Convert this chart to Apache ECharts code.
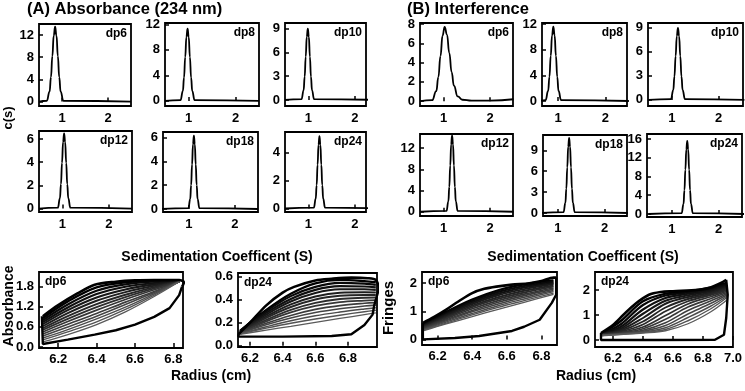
<!DOCTYPE html>
<html>
<head>
<meta charset="utf-8">
<script src="https://cdn.jsdelivr.net/npm/echarts@6/dist/echarts.min.js"></script>
<style>
html, body { margin: 0; padding: 0; background: #fff; }
#chart { width: 745px; height: 391px; }
</style>
</head>
<body>
<div id="chart"></div>
<script>
// c(s) distributions, [s (S), c(s)]
const absDp6 = [[0.5, 0], [0.67, 0.15], [0.73, 1.8], [0.76, 4.4], [0.79, 8.2], [0.82, 11.9], [0.85, 13.5], [0.88, 11.9], [0.91, 8.2], [0.94, 4.4], [0.97, 1.8], [1.03, 0.15], [2.5, 0]]
const absDp8 = [[0.5, 0], [0.83, 0.12], [0.88, 1.53], [0.905, 3.67], [0.93, 6.86], [0.955, 9.97], [0.98, 11.3], [1.005, 9.97], [1.03, 6.86], [1.055, 3.67], [1.08, 1.53], [1.13, 0.12], [2.5, 0]]
const absDp10 = [[0.5, 0], [0.855, 0.1], [0.9, 1.22], [0.9225, 2.93], [0.945, 5.46], [0.9675, 7.94], [0.99, 9.0], [1.0125, 7.94], [1.035, 5.46], [1.0575, 2.93], [1.08, 1.22], [1.125, 0.1], [2.5, 0]]
const absDp12 = [[0.5, 0], [0.905, 0.07], [0.95, 0.88], [0.9725, 2.11], [0.995, 3.95], [1.0175, 5.73], [1.04, 6.5], [1.0625, 5.73], [1.085, 3.95], [1.1075, 2.11], [1.13, 0.88], [1.175, 0.07], [2.5, 0]]
const absDp18 = [[0.4, 0], [0.99, 0.07], [1.03, 0.83], [1.05, 2.0], [1.07, 3.73], [1.09, 5.42], [1.11, 6.15], [1.13, 5.42], [1.15, 3.73], [1.17, 2.0], [1.19, 0.83], [1.23, 0.07], [2.5, 0]]
const absDp24 = [[0.5, 0], [1.12, 0.06], [1.16, 0.7], [1.18, 1.67], [1.2, 3.13], [1.22, 4.54], [1.24, 5.15], [1.26, 4.54], [1.28, 3.13], [1.3, 1.67], [1.32, 0.7], [1.36, 0.06], [2.5, 0]]

const intDp6 = [[0.5, 0], [0.75, 0.1], [0.84, 1.04], [0.885, 2.5], [0.93, 4.67], [0.975, 6.79], [1.02, 7.7], [1.07, 6.9], [1.12, 5.0], [1.17, 3.0], [1.22, 1.6], [1.3, 0.5], [1.4, 0.15], [1.6, 0.05], [2.0, 0.05], [2.5, 0.2]]
const intDp8 = [[0.6, 0], [0.735, 0.13], [0.79, 1.57], [0.8175, 3.77], [0.845, 7.04], [0.8725, 10.2], [0.9, 11.6], [0.9275, 10.2], [0.955, 7.04], [0.9825, 3.77], [1.01, 1.57], [1.065, 0.13], [2.5, 0]]
const intDp10 = [[0.5, 0], [0.98, 0.1], [1.03, 1.22], [1.055, 2.93], [1.08, 5.46], [1.105, 7.94], [1.13, 9.0], [1.155, 7.94], [1.18, 5.46], [1.205, 2.93], [1.23, 1.22], [1.28, 0.1], [2.55, 0]]
const intDp12 = [[0.5, 0], [1.06, 0.16], [1.1, 1.95], [1.12, 4.68], [1.14, 8.74], [1.16, 12.7], [1.18, 14.4], [1.2, 12.7], [1.22, 8.74], [1.24, 4.68], [1.26, 1.95], [1.3, 0.16], [2.5, 0]]
const intDp18 = [[0.6, 0], [1.12, 0.12], [1.16, 1.46], [1.18, 3.51], [1.2, 6.56], [1.22, 9.53], [1.24, 10.8], [1.26, 9.53], [1.28, 6.56], [1.3, 3.51], [1.32, 1.46], [1.36, 0.12], [2.5, 0]]
const intDp24 = [[0.5, 0], [1.21, 0.17], [1.25, 2.11], [1.27, 5.07], [1.29, 9.47], [1.31, 13.76], [1.33, 15.6], [1.35, 13.76], [1.37, 9.47], [1.39, 5.07], [1.41, 2.11], [1.45, 0.17], [2.55, 0]]

const sTicks = [1, 2]

// absorbance scans, dp6
const absScan6Radius = [6.12, 6.25, 6.4, 6.55, 6.7, 6.83]
const absScan6 = [
  [0.86, 1.36, 1.78, 1.93, 1.98, 1.95],
  [0.80, 1.27, 1.68, 1.87, 1.95, 1.95],
  [0.74, 1.18, 1.58, 1.80, 1.91, 1.95],
  [0.68, 1.10, 1.48, 1.72, 1.87, 1.95],
  [0.62, 1.01, 1.38, 1.64, 1.83, 1.95],
  [0.56, 0.92, 1.28, 1.56, 1.79, 1.95],
  [0.51, 0.84, 1.19, 1.49, 1.75, 1.95],
  [0.45, 0.76, 1.10, 1.42, 1.71, 1.95],
  [0.39, 0.68, 1.00, 1.34, 1.66, 1.95],
  [0.33, 0.60, 0.92, 1.27, 1.63, 1.95],
  [0.27, 0.52, 0.84, 1.19, 1.59, 1.95],
  [0.21, 0.45, 0.75, 1.12, 1.55, 1.95],
  [0.15, 0.37, 0.67, 1.05, 1.51, 1.95]
]
const absScan6Top = [[6.12, 0.92], [6.2, 1.25], [6.3, 1.6], [6.39, 1.86], [6.5, 1.95], [6.6, 1.99], [6.7, 2.0], [6.83, 2.0], [6.855, 1.93], [6.845, 1.8]]
const absScan6Outline = [[6.845, 1.8], [6.83, 1.55], [6.78, 1.16], [6.7, 0.9], [6.6, 0.67], [6.5, 0.5], [6.39, 0.37], [6.25, 0.22], [6.12, 0.09], [6.115, 0.09], [6.115, 0.92]]

// absorbance scans, dp24
const absScan24Radius = [6.14, 6.3, 6.45, 6.6, 6.75, 6.9, 6.97]
const absScan24 = [
  [0.13, 0.31, 0.45, 0.54, 0.57, 0.56, 0.55],
  [0.13, 0.30, 0.43, 0.51, 0.545, 0.538, 0.528],
  [0.125, 0.285, 0.405, 0.484, 0.516, 0.513, 0.506],
  [0.125, 0.271, 0.383, 0.457, 0.489, 0.489, 0.484],
  [0.12, 0.254, 0.358, 0.427, 0.46, 0.464, 0.462],
  [0.12, 0.242, 0.336, 0.401, 0.433, 0.44, 0.44],
  [0.115, 0.224, 0.311, 0.372, 0.405, 0.416, 0.418],
  [0.115, 0.212, 0.289, 0.345, 0.378, 0.392, 0.396],
  [0.11, 0.195, 0.263, 0.315, 0.348, 0.368, 0.374],
  [0.11, 0.183, 0.241, 0.288, 0.321, 0.344, 0.352],
  [0.105, 0.165, 0.217, 0.26, 0.292, 0.319, 0.33],
  [0.105, 0.153, 0.195, 0.232, 0.265, 0.295, 0.308],
  [0.10, 0.136, 0.169, 0.203, 0.237, 0.27, 0.286]
]
const absScan24Top = [[6.13, 0.1], [6.2, 0.2], [6.3, 0.35], [6.4, 0.46], [6.47, 0.51], [6.6, 0.565], [6.7, 0.58], [6.82, 0.59], [6.92, 0.585], [6.97, 0.57], [6.99, 0.5]]
const absScan24Outline = [[6.99, 0.5], [6.97, 0.4], [6.96, 0.35], [6.95, 0.27], [6.9, 0.18], [6.82, 0.1], [6.7, 0.085], [6.4, 0.08], [6.13, 0.08], [6.13, 0.1]]

// interference scans, dp6
const intScan6Radius = [6.12, 6.25, 6.4, 6.55, 6.7, 6.87]
const intScan6 = [
  [0.55, 0.98, 1.42, 1.75, 1.96, 2.10],
  [0.53, 0.94, 1.37, 1.69, 1.90, 2.06],
  [0.51, 0.90, 1.31, 1.63, 1.85, 2.01],
  [0.48, 0.86, 1.26, 1.57, 1.79, 1.97],
  [0.46, 0.82, 1.20, 1.50, 1.73, 1.92],
  [0.44, 0.78, 1.15, 1.44, 1.67, 1.88],
  [0.42, 0.74, 1.09, 1.38, 1.61, 1.83],
  [0.40, 0.70, 1.03, 1.32, 1.56, 1.79],
  [0.37, 0.66, 0.98, 1.26, 1.50, 1.74],
  [0.35, 0.62, 0.92, 1.20, 1.44, 1.70],
  [0.33, 0.58, 0.87, 1.14, 1.38, 1.65],
  [0.31, 0.55, 0.81, 1.07, 1.32, 1.60]
]
const intScan6Top = [[6.115, 0.59], [6.18, 0.8], [6.25, 1.06], [6.32, 1.35], [6.4, 1.65], [6.47, 1.8], [6.54, 1.88], [6.63, 1.95], [6.73, 2.0], [6.8, 2.08], [6.87, 2.2], [6.885, 2.2]]
const intScan6Outline = [[6.885, 2.2], [6.885, 1.59], [6.86, 1.3], [6.79, 0.7], [6.7, 0.45], [6.63, 0.3], [6.44, 0.12], [6.3, 0.05], [6.115, 0.0], [6.115, 0.59]]

// interference scans, dp24
const intScan24Radius = [6.12, 6.25, 6.4, 6.55, 6.7, 6.85, 6.96]
const intScan24 = [
  [0.25, 0.75, 1.55, 1.85, 1.95, 2.1, 2.3],
  [0.24, 0.62, 1.40, 1.78, 1.90, 2.05, 2.25],
  [0.23, 0.52, 1.22, 1.68, 1.85, 2.0, 2.2],
  [0.22, 0.45, 1.05, 1.57, 1.79, 1.95, 2.15],
  [0.22, 0.40, 0.88, 1.45, 1.72, 1.9, 2.1],
  [0.21, 0.36, 0.74, 1.30, 1.64, 1.85, 2.05],
  [0.21, 0.33, 0.62, 1.15, 1.55, 1.8, 2.0],
  [0.2, 0.30, 0.52, 0.98, 1.44, 1.73, 1.95],
  [0.2, 0.28, 0.45, 0.83, 1.32, 1.65, 1.9],
  [0.19, 0.26, 0.39, 0.69, 1.18, 1.56, 1.85],
  [0.19, 0.25, 0.35, 0.58, 1.04, 1.46, 1.8],
  [0.18, 0.24, 0.32, 0.49, 0.90, 1.35, 1.75],
  [0.18, 0.23, 0.30, 0.42, 0.77, 1.24, 1.7],
  [0.17, 0.22, 0.28, 0.37, 0.65, 1.12, 1.6]
]
const intScan24Top = [[6.12, 0.28], [6.2, 0.6], [6.27, 1.01], [6.35, 1.45], [6.44, 1.81], [6.52, 1.92], [6.6, 1.95], [6.77, 2.01], [6.85, 2.1], [6.92, 2.28], [6.955, 2.41]]
const intScan24Outline = [[6.955, 2.41], [6.965, 1.81], [6.955, 0.88], [6.94, 0.21], [6.88, 0.01], [6.5, 0.0], [6.12, 0.0], [6.12, 0.28]]

const radiusTicks = [6.2, 6.4, 6.6, 6.8]
const radiusTicksWide = [6.2, 6.4, 6.6, 6.8, 7.0]

const FONT = 'Arial, "Liberation Sans", sans-serif'

const peakPanels = [
  { label: 'dp6', data: absDp6, box: [39, 24, 92, 82], x: [0.5, 2.5], y: [-0.8, 14], ticks: [0, 4, 8, 12] },
  { label: 'dp8', data: absDp8, box: [165, 23, 94, 83], x: [0.5, 2.5], y: [-0.8, 12.2], ticks: [0, 4, 8, 12] },
  { label: 'dp10', data: absDp10, box: [285, 23, 81, 83], x: [0.5, 2.24], y: [-0.76, 9.7], ticks: [0, 3, 6, 9] },
  { label: 'dp12', data: absDp12, box: [39, 131, 93, 81], x: [0.5, 2.5], y: [-0.3, 6.7], ticks: [0, 2, 4, 6] },
  { label: 'dp18', data: absDp18, box: [163, 132, 95, 80], x: [0.44, 2.5], y: [-0.25, 6.45], ticks: [0, 2, 4, 6] },
  { label: 'dp24', data: absDp24, box: [285, 132, 81, 80], x: [0.5, 2.24], y: [-0.25, 5.45], ticks: [0, 2, 4] },
  { label: 'dp6', data: intDp6, box: [420, 23, 93, 83], x: [0.49, 2.49], y: [-0.5, 8.1], ticks: [0, 2, 4, 6, 8] },
  { label: 'dp8', data: intDp8, box: [542, 23, 85, 83], x: [0.66, 2.46], y: [-0.78, 12.15], ticks: [0, 4, 8, 12] },
  { label: 'dp10', data: intDp10, box: [648, 23, 95, 83], x: [0.49, 2.52], y: [-0.76, 9.6], ticks: [0, 3, 6, 9] },
  { label: 'dp12', data: intDp12, box: [420, 134, 93, 82], x: [0.49, 2.49], y: [-0.8, 14.65], ticks: [0, 4, 8, 12] },
  { label: 'dp18', data: intDp18, box: [543, 135, 84, 81], x: [0.68, 2.48], y: [-0.43, 11.2], ticks: [0, 3, 6, 9] },
  { label: 'dp24', data: intDp24, box: [647, 134, 95, 83], x: [0.47, 2.5], y: [-0.64, 17.06], ticks: [0, 4, 8, 12, 16] }
]

const scanPanels = [
  { label: 'dp6', radius: absScan6Radius, scans: absScan6, top: absScan6Top, outline: absScan6Outline, box: [39, 272, 144, 76], x: [6.1, 6.85], y: [-0.03, 2.24], xTicks: radiusTicks, yTicks: [0, 0.6, 1.2, 1.8], digits: 1 },
  { label: 'dp24', radius: absScan24Radius, scans: absScan24, top: absScan24Top, outline: absScan24Outline, box: [238, 273, 139, 74], x: [6.127, 6.977], y: [-0.01, 0.63], xTicks: radiusTicks, yTicks: [0, 0.2, 0.4, 0.6], digits: 1 },
  { label: 'dp6', radius: intScan6Radius, scans: intScan6, top: intScan6Top, outline: intScan6Outline, box: [422, 272, 135, 73], x: [6.11, 6.89], y: [-0.2, 2.4], xTicks: radiusTicks, yTicks: [0, 1, 2], digits: 0 },
  { label: 'dp24', radius: intScan24Radius, scans: intScan24, top: intScan24Top, outline: intScan24Outline, box: [595, 272, 142, 75], x: [6.08, 7.0], y: [-0.28, 2.72], xTicks: radiusTicksWide, yTicks: [0, 1, 2], digits: 0 }
]

function makeAxis(idx, range, ticks, margin, digits) {
  return {
    type: 'value',
    gridIndex: idx,
    min: range[0],
    max: range[1],
    axisLine: { show: false },
    splitLine: { show: false },
    axisTick: { inside: true, length: 4, customValues: ticks, lineStyle: { color: '#000', width: 1.5 } },
    axisLabel: {
      customValues: ticks,
      margin: margin,
      color: '#000',
      fontWeight: 'bold',
      fontSize: 13,
      fontFamily: FONT,
      formatter: v => digits == null ? String(v) : v.toFixed(digits)
    }
  }
}

const grids = [], xAxes = [], yAxes = [], series = [], texts = []

function addGrid(box) {
  grids.push({ left: box[0], top: box[1], width: box[2], height: box[3], show: true, borderColor: '#000', borderWidth: 1.8, backgroundColor: 'transparent' })
  return grids.length - 1
}

peakPanels.forEach(p => {
  const i = addGrid(p.box)
  xAxes.push(makeAxis(i, p.x, sTicks, 6))
  yAxes.push(makeAxis(i, p.y, p.ticks, 5))
  series.push({
    type: 'line', xAxisIndex: i, yAxisIndex: i, data: p.data,
    showSymbol: false, smooth: true, smoothMonotone: 'x',
    lineStyle: { color: '#000', width: 1.8 }
  })
  texts.push({
    type: 'text', x: p.box[0] + p.box[2] - 4, y: p.box[1] + 4,
    style: { text: p.label, textAlign: 'right', textVerticalAlign: 'top', font: 'bold 12px ' + FONT, fill: '#000' }
  })
})

scanPanels.forEach(p => {
  const i = addGrid(p.box)
  xAxes.push(makeAxis(i, p.x, p.xTicks, 5, 1))
  yAxes.push(makeAxis(i, p.y, p.yTicks, 5, p.digits))
  const n = p.scans.length
  p.scans.forEach((scan, k) => {
    const g = Math.round(k / (n - 1) * 90)
    series.push({
      type: 'line', xAxisIndex: i, yAxisIndex: i,
      data: p.radius.map((r, j) => [r, scan[j]]),
      showSymbol: false, smooth: 0.35,
      lineStyle: { color: `rgb(${g},${g},${g})`, width: 2.3 - 1.0 * k / (n - 1) }
    })
  })
  series.push({
    type: 'line', xAxisIndex: i, yAxisIndex: i, data: p.top,
    showSymbol: false, smooth: 0.3, lineStyle: { color: '#000', width: 2.6 }
  })
  series.push({
    type: 'line', xAxisIndex: i, yAxisIndex: i, data: p.outline,
    showSymbol: false, smooth: false, lineStyle: { color: '#000', width: 2.4 }
  })
  texts.push({
    type: 'text', x: p.box[0] + 6, y: p.box[1] + 4,
    style: { text: p.label, textAlign: 'left', textVerticalAlign: 'top', font: 'bold 12px ' + FONT, fill: '#000' }
  })
})

function label(text, x, y, size, rotate) {
  return {
    type: 'text', x: x, y: y, rotation: rotate ? Math.PI / 2 : 0,
    style: { text: text, textAlign: 'center', textVerticalAlign: 'middle', font: `bold ${size}px ${FONT}`, fill: '#000' }
  }
}

texts.push(
  { type: 'text', x: 27, y: 1, style: { text: '(A) Absorbance (234 nm)', textAlign: 'left', textVerticalAlign: 'top', font: 'bold 16.5px ' + FONT, fill: '#000' } },
  { type: 'text', x: 407, y: 1, style: { text: '(B) Interference', textAlign: 'left', textVerticalAlign: 'top', font: 'bold 16.5px ' + FONT, fill: '#000' } },
  label('c(s)', 8, 118, 13, true),
  label('Sedimentation Coefficent (S)', 217, 257, 14),
  label('Sedimentation Coefficent (S)', 583, 257, 14),
  label('Absorbance', 9, 306, 14, true),
  label('Fringes', 389, 308, 15, true),
  label('Radius (cm)', 211, 376, 14),
  label('Radius (cm)', 596, 376, 14)
)

const chart = echarts.init(document.getElementById('chart'))
chart.setOption({
  animation: false,
  backgroundColor: '#fff',
  grid: grids,
  xAxis: xAxes,
  yAxis: yAxes,
  series: series,
  graphic: texts
})
</script>
</body>
</html>
